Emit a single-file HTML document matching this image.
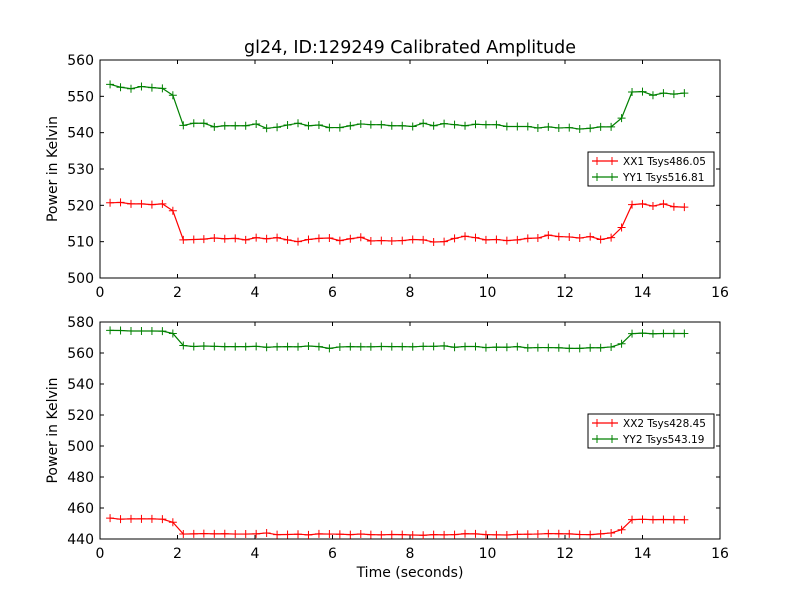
<!DOCTYPE html>
<html><head><meta charset="utf-8"><style>
body{margin:0;background:#fff;}
svg{display:block;font-family:"DejaVu Sans","Liberation Sans",sans-serif;}
</style></head><body>
<svg id="c" width="800" height="600" viewBox="0 0 800 600">
<rect width="800" height="600" fill="#fff"/>
<text x="410" y="53" text-anchor="middle" font-size="17.5">gl24, ID:129249 Calibrated Amplitude</text>
<g id="p1"></g>
<g id="p2"></g>
<text x="410" y="577" text-anchor="middle" font-size="14">Time (seconds)</text>
</svg>
<script>
const times=[0.26,0.53,0.80,1.07,1.34,1.61,1.88,2.15,2.42,2.68,2.95,3.22,3.49,3.76,4.03,4.30,4.57,4.84,5.11,5.38,5.65,5.92,6.19,6.46,6.73,6.99,7.26,7.53,7.80,8.07,8.34,8.61,8.88,9.15,9.42,9.69,9.96,10.23,10.50,10.77,11.04,11.30,11.57,11.84,12.11,12.38,12.65,12.92,13.19,13.46,13.73,14.00,14.27,14.54,14.81,15.08];
const xx1=[520.7,520.8,520.4,520.4,520.2,520.4,518.5,510.5,510.6,510.7,511.0,510.8,510.9,510.5,511.1,510.8,511.1,510.5,510.0,510.6,510.9,511.0,510.3,510.8,511.2,510.2,510.3,510.2,510.3,510.6,510.5,509.9,510.0,510.9,511.5,511.1,510.5,510.6,510.3,510.5,510.9,511.0,511.8,511.4,511.3,511.0,511.4,510.6,511.1,513.9,520.2,520.4,519.8,520.4,519.6,519.5];
const yy1=[553.3,552.5,552.1,552.7,552.4,552.2,550.3,542.0,542.6,542.6,541.6,541.9,541.9,541.9,542.4,541.2,541.5,542.1,542.6,541.9,542.1,541.4,541.4,541.9,542.4,542.2,542.2,541.9,541.9,541.7,542.6,541.9,542.5,542.2,541.9,542.3,542.2,542.2,541.7,541.7,541.7,541.3,541.6,541.3,541.4,541.0,541.2,541.6,541.6,544.0,551.2,551.3,550.3,550.9,550.6,550.9];
const xx2=[453.5,452.8,453.0,453.0,453.0,452.8,450.8,443.2,443.3,443.5,443.3,443.4,443.2,443.2,443.3,443.9,442.8,442.9,443.1,442.7,443.3,443.2,443.1,442.8,443.2,442.8,442.7,442.9,442.8,442.6,442.4,442.8,442.7,442.8,443.4,443.3,442.8,442.7,442.6,443.0,443.1,443.2,443.5,443.4,443.3,442.9,442.8,443.3,443.9,446.0,452.5,452.7,452.5,452.6,452.5,452.4];
const yy2=[574.6,574.5,574.2,574.2,574.2,574.1,572.6,564.8,564.2,564.5,564.3,564.1,564.1,564.1,564.3,563.7,564.0,564.1,564.0,564.5,564.1,563.0,563.9,564.1,564.0,564.0,564.2,564.1,564.1,564.0,564.3,564.3,564.6,563.7,564.2,564.2,563.5,563.8,563.7,564.1,563.3,563.5,563.5,563.4,563.0,563.0,563.4,563.4,563.9,566.0,572.5,572.8,572.4,572.6,572.6,572.6];
const xTicks=[0,2,4,6,8,10,12,14,16];
const yTicks1=[500,510,520,530,540,550,560];
const yTicks2=[440,460,480,500,520,540,560,580];
const legend1=["XX1 Tsys486.05","YY1 Tsys516.81"];
const legend2=["XX2 Tsys428.45","YY2 Tsys543.19"];
const NS='http://www.w3.org/2000/svg';
function mk(parent,tag,attrs){const e=document.createElementNS(NS,tag);for(const k in attrs)e.setAttribute(k,attrs[k]);parent.appendChild(e);return e;}
function panel(g,top,bot,ymin,ymax,yTicks,s1,s2,leg,legY,prefix){
  const L=100,R=720;
  const xs=v=>L+(v-0)/(16-0)*(R-L);
  const ys=v=>bot-(v-ymin)/(ymax-ymin)*(bot-top);
  const ax=mk(g,'rect',{x:L,y:top,width:R-L,height:bot-top,fill:'none',stroke:'#000','stroke-width':1});
  
  
  xTicks.forEach(t=>{
    const x=xs(t);
    mk(g,'line',{x1:x,x2:x,y1:bot,y2:bot-4,stroke:'#000'});
    mk(g,'line',{x1:x,x2:x,y1:top,y2:top+4,stroke:'#000'});
    const tx=mk(g,'text',{x:x,y:bot+19,'text-anchor':'middle','font-size':14});
    tx.textContent=t;
    
    
  });
  yTicks.forEach(t=>{
    const y=ys(t);
    mk(g,'line',{x1:L,x2:L+4,y1:y,y2:y,stroke:'#000'});
    mk(g,'line',{x1:R,x2:R-4,y1:y,y2:y,stroke:'#000'});
    const tx=mk(g,'text',{x:L-6,y:y+5,'text-anchor':'end','font-size':14});
    tx.textContent=t;
    
    
  });
  const yt=mk(g,'text',{x:0,y:0,'text-anchor':'middle','font-size':14,transform:`translate(57,${(top+bot)/2}) rotate(-90)`});
  yt.textContent='Power in Kelvin';
  
  
  [[s1,'#ff0000','xx'],[s2,'#008000','yy']].forEach(([arr,col,nm])=>{
    const pts=arr.map((v,i)=>[xs(times[i]),ys(v)]);
    const pl=mk(g,'polyline',{points:pts.map(p=>p.join(',')).join(' '),fill:'none',stroke:col,'stroke-width':1.2});
    
    
    pts.forEach(p=>{
      mk(g,'path',{d:`M${p[0]-4},${p[1]}h8M${p[0]},${p[1]-4}v8`,stroke:col,'stroke-width':1});
    });
  });
  const lg=mk(g,'g',{});
  
  
  mk(lg,'rect',{x:588,y:legY,width:126,height:34,fill:'#fff',stroke:'#000','stroke-width':1});
  [['#ff0000',leg[0]],['#008000',leg[1]]].forEach(([col,lab],i)=>{
    const y=legY+9+i*16;
    mk(lg,'line',{x1:592,x2:618,y1:y,y2:y,stroke:col,'stroke-width':1.2});
    mk(lg,'path',{d:`M597,${y-4}v8M612,${y-4}v8`,stroke:col});
    const t=mk(lg,'text',{x:623,y:y+4,'font-size':10.5});
    t.textContent=lab;
    
    
  });
}
panel(document.getElementById('p1'),60,278,500,560,yTicks1,xx1,yy1,legend1,152,'top');
panel(document.getElementById('p2'),322,539,440,580,yTicks2,xx2,yy2,legend2,414,'bottom');
</script>
</body></html>
